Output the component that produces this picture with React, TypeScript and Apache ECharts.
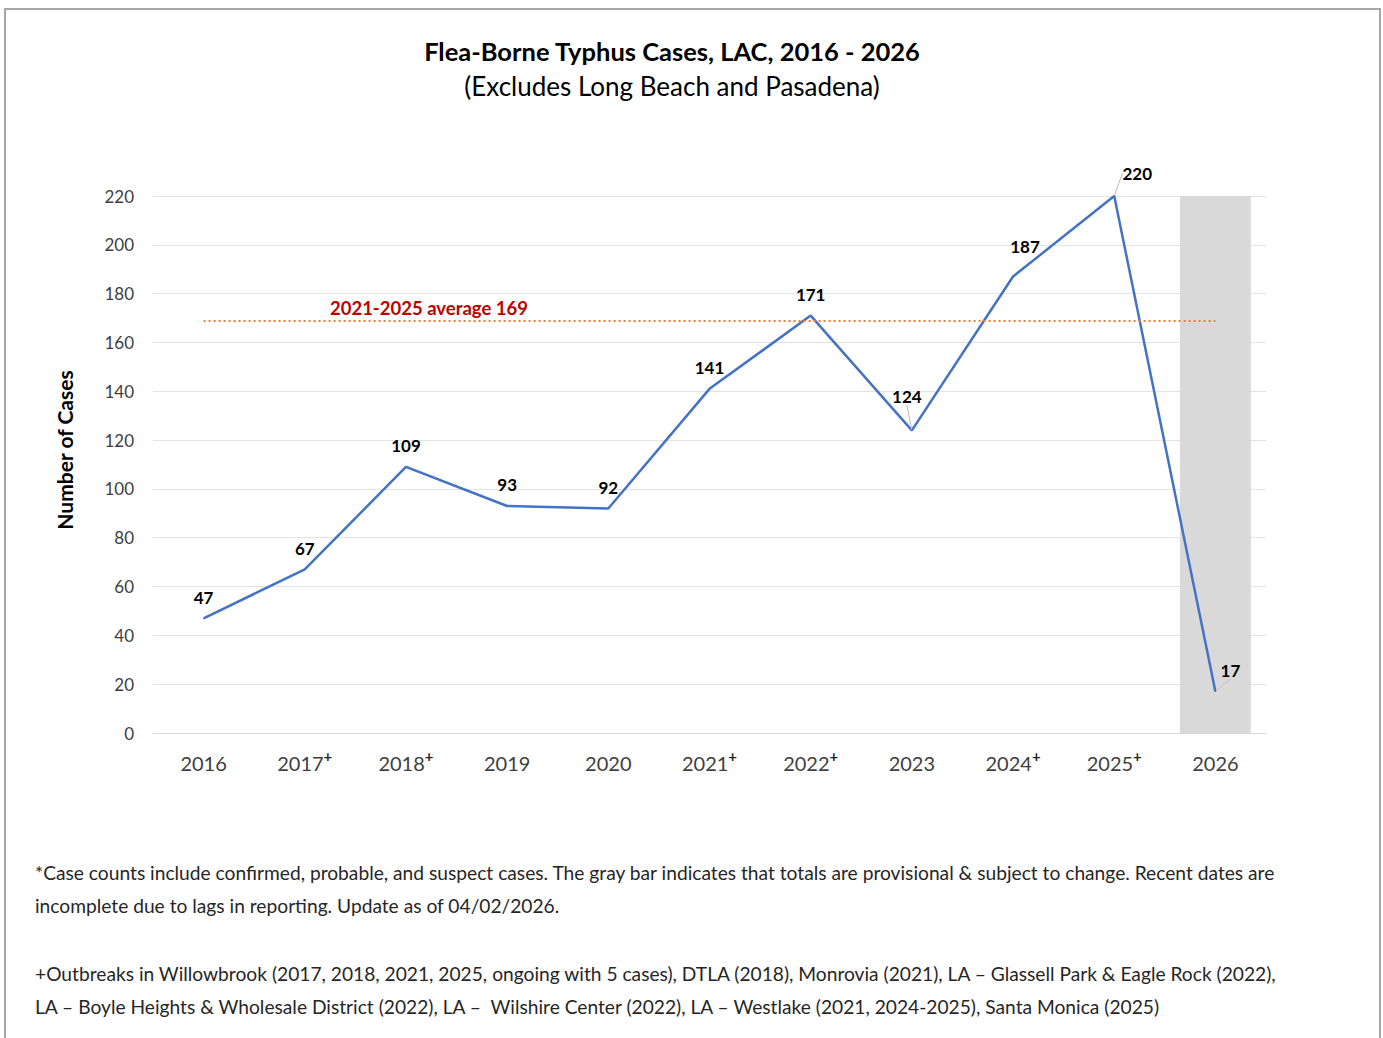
import React, { useEffect, useRef } from "react";
import * as echarts from "echarts";

const years = ["2016", "2017", "2018", "2019", "2020", "2021", "2022", "2023", "2024", "2025", "2026"];
const outbreakYears = ["2017", "2018", "2021", "2022", "2024", "2025"];
const cases = [47, 67, 109, 93, 92, 141, 171, 124, 187, 220, 17];
const provisionalYears = ["2026"];
const averageValue = 169;
const averageLabel = "2021-2025 average 169";
const yTicks = { min: 0, max: 220, interval: 20 };

const titleText = "Flea-Borne Typhus Cases, LAC, 2016 - 2026";
const subtitleText = "(Excludes Long Beach and Pasadena)";
const footnoteLines = [
  "*Case counts include confirmed, probable, and suspect cases. The gray bar indicates that totals are provisional & subject to change. Recent dates are",
  "incomplete due to lags in reporting. Update as of 04/02/2026.",
  "+Outbreaks in Willowbrook (2017, 2018, 2021, 2025, ongoing with 5 cases), DTLA (2018), Monrovia (2021), LA \u2013 Glassell Park & Eagle Rock (2022),",
  "LA \u2013 Boyle Heights & Wholesale District (2022), LA \u2013  Wilshire Center (2022), LA \u2013 Westlake (2021, 2024-2025), Santa Monica (2025)",
];

const FONT = "Lato, 'Open Sans', sans-serif";

// label displacement (style) for a few crowded points
const labelShift: Record<number, [number, number]> = {
  7: [-5, -13],
  8: [12, -9],
  9: [23, -2],
  10: [15, 0],
};
const leaderLineIdx = [7, 9, 10];

export default function App() {
  const ref = useRef<HTMLDivElement>(null);

  useEffect(() => {
    if (!ref.current) return;
    const chart = echarts.init(ref.current, undefined, { renderer: "svg" });

    const barData = years.map((y) => (provisionalYears.includes(y) ? yTicks.max : "-"));
    const lineData = cases.map((v, i) => ({
      value: v,
      labelLine: { show: leaderLineIdx.includes(i) },
    }));

    const footY = [872, 905, 973, 1006];

    chart.setOption({
      animation: false,
      backgroundColor: "#ffffff",
      grid: { left: 153, right: 117, top: 196, bottom: 305, containLabel: false },
      xAxis: {
        type: "category",
        data: years,
        boundaryGap: true,
        axisLine: { show: true, lineStyle: { color: "#d9d9d9", width: 1 } },
        axisTick: { show: false },
        axisLabel: {
          margin: 15,
          fontFamily: FONT,
          formatter: (v: string) => (outbreakYears.includes(v) ? `{y|${v}}{p|+}` : `{y|${v}}`),
          rich: {
            y: { fontSize: 20, lineHeight: 30, color: "#404040", fontFamily: FONT },
            p: {
              fontSize: 15,
              fontWeight: "bold",
              color: "#262626",
              fontFamily: FONT,
              verticalAlign: "top",
            },
          },
        },
        splitLine: { show: false },
      },
      yAxis: {
        type: "value",
        min: yTicks.min,
        max: yTicks.max,
        interval: yTicks.interval,
        name: "Number of Cases",
        nameLocation: "middle",
        nameGap: 78,
        nameTextStyle: {
          fontSize: 21,
          fontWeight: "bold",
          color: "#000",
          fontFamily: FONT,
          padding: [0, 0, 0, 29],
        },
        axisLine: { show: false },
        axisTick: { show: false },
        axisLabel: { fontSize: 17, color: "#404040", margin: 19, fontFamily: FONT },
        splitLine: { lineStyle: { color: "#e3e3e3", width: 1 } },
      },
      series: [
        {
          type: "bar",
          data: barData,
          barWidth: "70%",
          itemStyle: { color: "#d9d9d9" },
          silent: true,
          z: 1,
        },
        {
          type: "line",
          data: lineData,
          symbol: "circle",
          symbolSize: 1,
          showSymbol: true,
          z: 3,
          lineStyle: { color: "#4472c4", width: 2.5 },
          itemStyle: { color: "#4472c4" },
          label: {
            show: true,
            position: "top",
            distance: 12,
            fontSize: 17,
            fontWeight: "bold",
            color: "#000",
            fontFamily: FONT,
          },
          labelLine: { show: false, lineStyle: { color: "#bfbfbf", width: 1 } },
          labelLayout: (params: any) => {
            const s = labelShift[params.dataIndex];
            return s ? { dx: s[0], dy: s[1] } : {};
          },
          markLine: {
            silent: true,
            symbol: "none",
            label: { show: false },
            lineStyle: { color: "#ed7d31", type: [2, 3], width: 2 },
            data: [
              [
                { coord: [years[0], averageValue] },
                { coord: [years[years.length - 1], averageValue] },
              ],
            ],
          },
        },
      ],
      graphic: [
        {
          type: "rect",
          shape: { x: 5, y: 9, width: 1375, height: 1060 },
          style: { fill: "none", stroke: "#a6a6a6", lineWidth: 2 },
          silent: true,
        },
        {
          type: "text",
          x: 672,
          y: 51,
          style: {
            text: titleText,
            fontSize: 25.5,
            fontWeight: "bold",
            fill: "#000",
            fontFamily: FONT,
            textAlign: "center",
            textVerticalAlign: "middle",
          },
        },
        {
          type: "text",
          x: 672,
          y: 86,
          style: {
            text: subtitleText,
            fontSize: 26,
            fill: "#000",
            fontFamily: FONT,
            textAlign: "center",
            textVerticalAlign: "middle",
          },
        },
        {
          type: "text",
          x: 429,
          y: 308,
          style: {
            text: averageLabel,
            fontSize: 18.5,
            fontWeight: "bold",
            fill: "#c00000",
            fontFamily: FONT,
            textAlign: "center",
            textVerticalAlign: "middle",
          },
        },
        ...footnoteLines.map((t, i) => ({
          type: "text",
          x: 35,
          y: footY[i],
          style: {
            text: t,
            fontSize: 19.2,
            fill: "#262626",
            fontFamily: FONT,
            textAlign: "left",
            textVerticalAlign: "middle",
          },
        })),
      ],
    });

    return () => chart.dispose();
  }, []);

  return (
    <div
      ref={ref}
      style={{ position: "fixed", left: 0, top: 0, width: 1383, height: 1038, background: "#fff" }}
    />
  );
}
